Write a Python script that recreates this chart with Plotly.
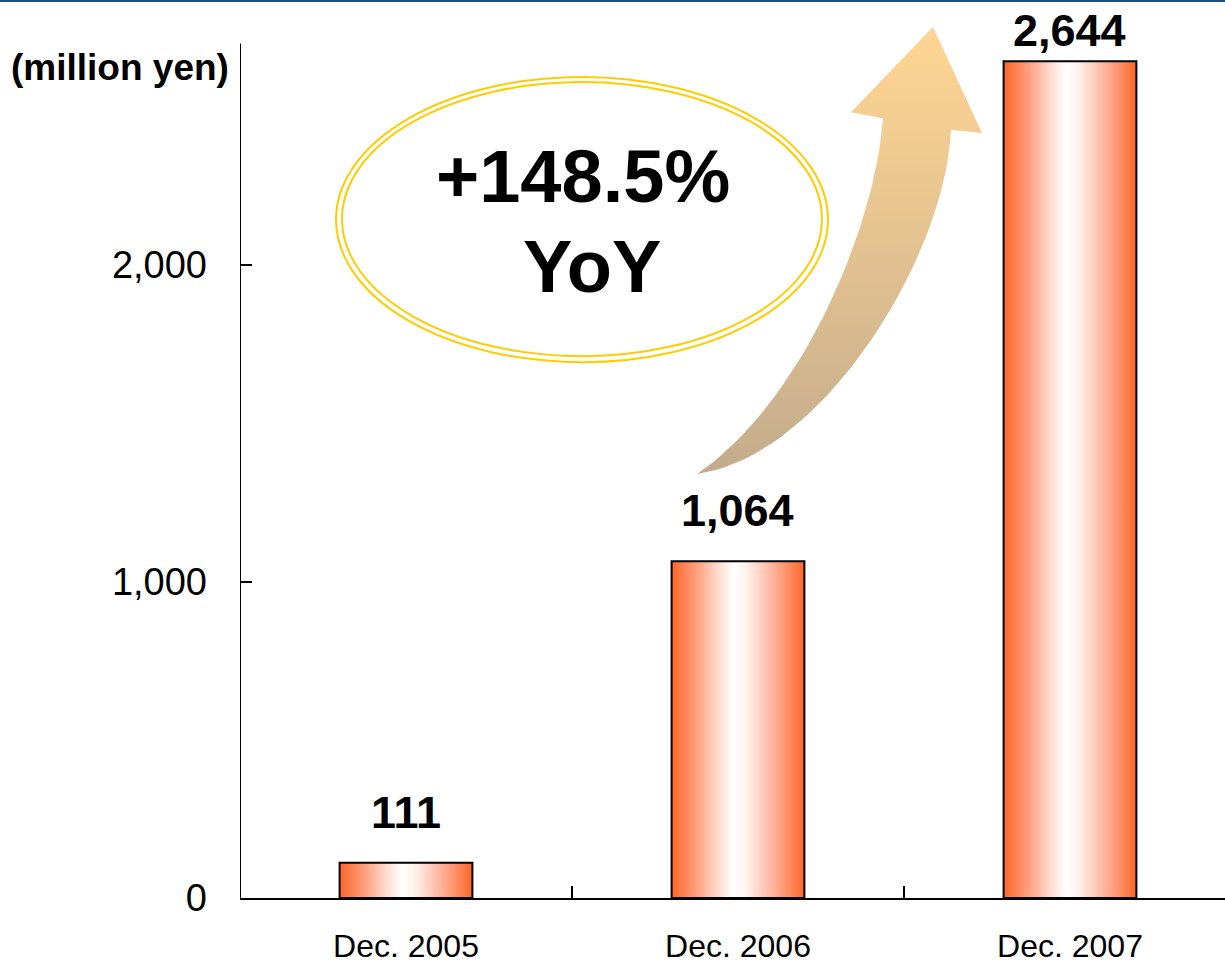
import numpy as np
import plotly.graph_objects as go

# Sales by period (million yen)
periods = ["Dec. 2005", "Dec. 2006", "Dec. 2007"]
sales = [111, 1064, 2644]
value_labels = ["111", "1,064", "2,644"]
yoy_text = "+148.5%"

y_ticks = [0, 1000, 2000]
y_tick_text = ["0", "1,000", "2,000"]

SANS = "Liberation Sans, Arial, sans-serif"
BAR_HALF = 0.2
Y_TOP = 2700          # end of the drawn value axis
Y_MAX = 2805.7        # plot range (leaves room for the arrow head)

fig = go.Figure()

# gradient-filled bars (orange edges, white centre) with black outlines
bar_scale = [[0.0, "#FF6529"], [0.18, "#FF9D7A"], [0.38, "#FFE6DC"],
             [0.47, "#FFFFFF"], [0.56, "#FFF3EE"], [0.78, "#FFAE94"],
             [1.0, "#FF6529"]]
for i, v in enumerate(sales):
    x0, x1 = i - BAR_HALF, i + BAR_HALF
    fig.add_trace(go.Scatter(
        x=[x0, x1, x1, x0, x0], y=[0, 0, v, v, 0],
        mode="lines", fill="toself",
        fillgradient=dict(type="horizontal", colorscale=bar_scale,
                          start=x0, stop=x1),
        line=dict(color="black", width=2),
        hoverinfo="skip", showlegend=False,
    ))


def bezier(p0, p1, p2, p3, n=40):
    t = np.linspace(0, 1, n)[:, None]
    p0, p1, p2, p3 = map(np.array, (p0, p1, p2, p3))
    return ((1 - t) ** 3) * p0 + 3 * ((1 - t) ** 2) * t * p1 \
        + 3 * (1 - t) * t ** 2 * p2 + t ** 3 * p3


# curved growth arrow rising towards the latest bar
tail = (0.8765, 1340)
upper_edge = bezier(tail, (1.1867, 1560), (1.4127, 2110), (1.4367, 2464))
lower_edge = bezier(tail, (1.2470, 1390), (1.6235, 2016), (1.6416, 2427))
head = np.array([(1.3404, 2483), (1.5873, 2752), (1.7349, 2417)])
outline = np.vstack([upper_edge, head, lower_edge[::-1]])
fig.add_trace(go.Scatter(
    x=outline[:, 0], y=outline[:, 1], mode="lines", fill="toself",
    fillgradient=dict(type="vertical",
                      colorscale=[[0, "#C3AC8C"], [0.5, "#E3C291"], [1, "#FFD592"]],
                      start=tail[1], stop=2752),
    line=dict(width=0, color="rgba(0,0,0,0)"),
    hoverinfo="skip", showlegend=False,
))

# value labels above bars
label_shift = [50, 51, 31]
for i, (v, txt) in enumerate(zip(sales, value_labels)):
    fig.add_annotation(x=i, y=v, text=f"<b>{txt}</b>", showarrow=False,
                       xanchor="center", yanchor="middle", yshift=label_shift[i],
                       font=dict(family=SANS, size=45, color="black"))

# double gold ellipse with the growth rate
fig.add_shape(type="circle", xref="x", yref="y", x0=-0.2108, x1=1.2711,
              y0=1693, y1=2594, line=dict(color="#FFCC00", width=2))
fig.add_shape(type="circle", xref="x", yref="y", x0=-0.1928, x1=1.2530,
              y0=1712, y1=2578, line=dict(color="#FFCC00", width=2))
fig.add_annotation(x=0.533, y=2280, text=f"<b>{yoy_text}</b>", showarrow=False,
                   xanchor="center", yanchor="middle",
                   font=dict(family=SANS, size=74, color="black"))
fig.add_annotation(x=0.560, y=1995, text="<b>YoY</b>", showarrow=False,
                   xanchor="center", yanchor="middle",
                   font=dict(family=SANS, size=74, color="black"))

# unit caption
fig.add_annotation(xref="paper", yref="paper", x=-0.1218, y=0.9347,
                   xanchor="center", yanchor="middle",
                   text="<b>(million yen)</b>", showarrow=False,
                   font=dict(family=SANS, size=37, color="black"))

# value axis line stops at the top of the scale
fig.add_shape(type="line", xref="x", yref="y", x0=-0.5, x1=-0.5, y0=0, y1=Y_TOP,
              line=dict(color="black", width=2))
# thin rule along the top of the page
fig.add_shape(type="line", xref="paper", yref="paper", x0=-0.25, x1=1.0,
              y0=1.0 + 9 / 888, y1=1.0 + 9 / 888,
              line=dict(color="#1F4E79", width=2))

fig.update_layout(
    width=1225, height=966,
    margin=dict(l=240, r=0, t=10, b=68),
    paper_bgcolor="white", plot_bgcolor="white",
    showlegend=False,
    xaxis=dict(range=[-0.5, 2.4669], tickvals=[0, 1, 2], ticktext=periods,
               ticks="", showline=True, linecolor="black", linewidth=2,
               showgrid=False, zeroline=False, automargin=False,
               tickfont=dict(family=SANS, size=32, color="black"),
               ticklabelstandoff=19,
               minor=dict(tickvals=[0.5, 1.5, 2.5], ticks="inside", ticklen=12,
                          tickcolor="black", tickwidth=1.5, showgrid=False)),
    yaxis=dict(range=[0, Y_MAX], tickvals=y_ticks, ticktext=y_tick_text,
               ticks="inside", ticklen=12, tickcolor="black", tickwidth=1.5,
               showline=False, showgrid=False, zeroline=False, automargin=False,
               tickfont=dict(family=SANS, size=38, color="black"),
               ticklabelstandoff=32),
)

fig.write_html("out.html")
